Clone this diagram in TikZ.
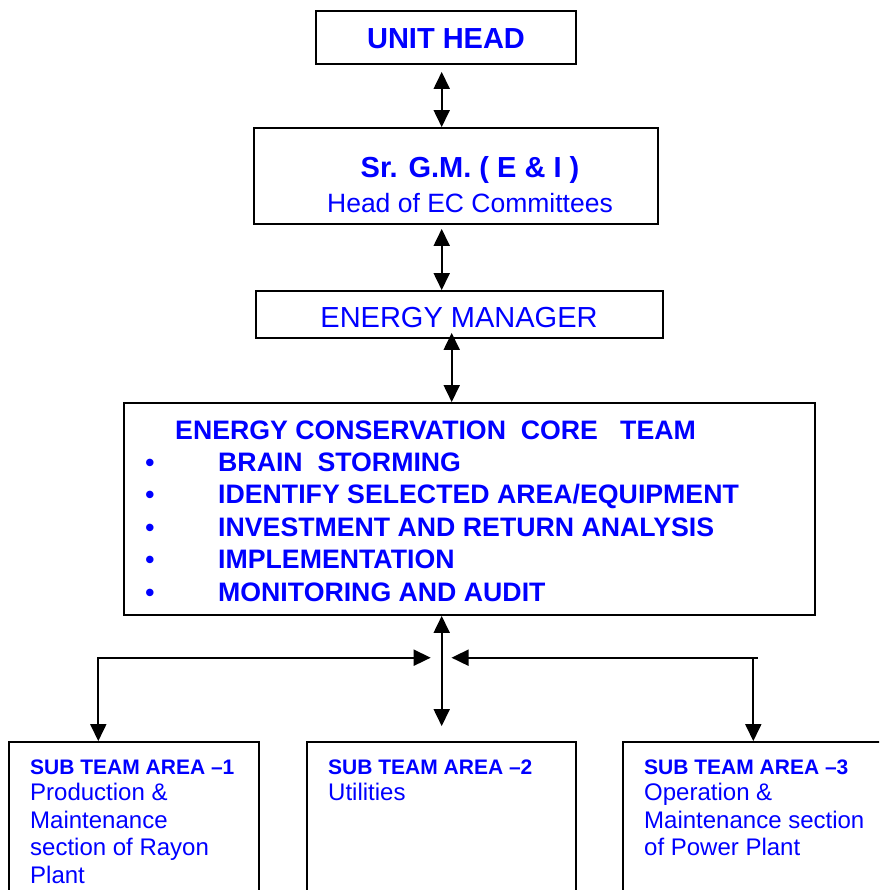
\documentclass[tikz,border=0pt]{standalone}
\usepackage{fontspec}
\setmainfont{Liberation Sans}
\usetikzlibrary{arrows.meta}
\definecolor{txtblue}{RGB}{0,0,255}
\tikzset{
  box/.style={draw=black, line width=1.8pt, rectangle, inner sep=0pt},
  conn/.style={line width=1.8pt, {Triangle[length=17pt,width=16pt]}-{Triangle[length=17pt,width=16pt]}},
  tb/.style={text=txtblue, inner sep=0pt, font=\bfseries},
  tr/.style={text=txtblue, inner sep=0pt},
}
\begin{document}
\begin{tikzpicture}[x=1pt,y=-1pt]
\useasboundingbox (0,0) rectangle (879,890);
\clip (0,0) rectangle (879,890);
% boxes
\node[box, minimum width=260pt, minimum height=53pt] (unit) at (446,37.5) {};
\node[box, minimum width=404pt, minimum height=96pt] (srgm) at (456,176) {};
\node[box, minimum width=407pt, minimum height=47pt] (em) at (459.5,314.5) {};
\node[box, minimum width=691pt, minimum height=212pt] (core) at (469.5,509) {};
\node[box, minimum width=250pt, minimum height=170pt] (sub1) at (134,827) {};
\node[box, minimum width=269pt, minimum height=170pt] (sub2) at (441.5,827) {};
\node[box, minimum width=280pt, minimum height=170pt] (sub3) at (763,827) {};
% texts
\node[tb, font=\fontsize{29}{34}\selectfont\bfseries] (tunit) at (446,39) {UNIT HEAD};
\node[tb, font=\fontsize{29}{34}\selectfont\bfseries] (tsr) at (470,170) {Sr. G.M. ( E \& I )};
\node[tr, font=\fontsize{26.5}{32}\selectfont] (thead) at (470,203) {Head of EC Committees};
\node[tr, font=\fontsize{29}{34}\selectfont] (tem) at (459,318) {ENERGY MANAGER};
\tikzset{core/.style={tb, font=\fontsize{26.7}{31}\selectfont\bfseries, anchor=base west}}
\node[core] (t0) at (175,439.5) {ENERGY CONSERVATION\ \ CORE\ \ \ TEAM};
\foreach \y/\t [count=\i] in {471.5/{BRAIN\ \ STORMING}, 503.5/{IDENTIFY SELECTED AREA/EQUIPMENT}, 536.5/{INVESTMENT AND RETURN ANALYSIS}, 568.5/{IMPLEMENTATION}, 601.5/{MONITORING AND AUDIT}}{
  \node[core] (t\i) at (218,\y) {\t};
  \node[tb, font=\fontsize{26}{31}\selectfont\bfseries, anchor=base] (b\i) at (150,\y) {\textbullet};
}
\tikzset{subb/.style={tb, font=\fontsize{21}{25}\selectfont\bfseries, anchor=base west},
         subr/.style={tr, font=\fontsize{24}{28}\selectfont, anchor=base west}}
\node[subb] (s1a) at (30,774.5) {SUB TEAM AREA –1};
\node[subr] (s1b) at (30,800.5) {Production \&};
\node[subr] (s1c) at (30,828) {Maintenance};
\node[subr] (s1d) at (30,855.5) {section of Rayon};
\node[subr] (s1e) at (30,883) {Plant};
\node[subb] (s2a) at (328,774.5) {SUB TEAM AREA –2};
\node[subr] (s2b) at (328,800.5) {Utilities};
\node[subb] (s3a) at (644,774.5) {SUB TEAM AREA –3};
\node[subr] (s3b) at (644,800.5) {Operation \&};
\node[subr] (s3c) at (644,828) {Maintenance section};
\node[subr] (s3d) at (644,855.5) {of Power Plant};
% connectors
\draw[conn] ([yshift=-7pt]unit.south -| 441.7,0) -- (441.7,0 |- srgm.north);
\draw[conn] ([yshift=-4pt]srgm.south -| 441.7,0) -- (441.7,0 |- em.north);
\draw[conn] ([yshift=6pt]em.south -| 451.7,0) -- (451.7,0 |- core.north);
\draw[conn] (441.7,0 |- core.south) -- ([yshift=15pt]sub2.north -| 441.7,0);
\coordinate (jl) at (98.3,657.7);
\coordinate (jr) at (753.3,657.7);
\coordinate (hl) at (430.7,657.7);
\coordinate (hr) at (451.5,657.7);
\draw[conn] (jl |- sub1.north) -- (jl) -- (hl);
\draw[conn] (jr |- sub3.north) -- (jr) -- (hr);
\draw[line width=1.8pt] (jr) -- (758,657.7);
\end{tikzpicture}
\end{document}
